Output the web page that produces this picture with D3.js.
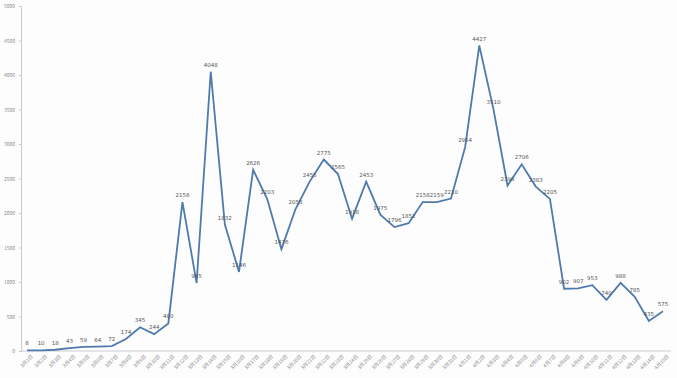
<!DOCTYPE html>
<html lang="zh">
<head>
<meta charset="UTF-8">
<title>Daily counts</title>
<style>
    html, body { margin: 0; height: 100%; }
    body { background: #fdfdfd; }
    .axis path, .axis line { stroke: #c8ccd2; }
    .axis text { fill: #8a8a8a; font-family: "Noto Sans CJK SC", "DejaVu Sans", sans-serif; font-size: 5px; }
    .lbl { fill: #555; font-family: "DejaVu Sans", sans-serif; font-size: 5.5px; }
</style>
</head>
<body>
<div class="chart"></div>
<script src="https://d3js.org/d3.v7.min.js"></script>
<script>
    // dates: 3/1 - 3/31, 4/1 - 4/15
    var marchDays = d3.range(1, 32).map(d => "3月" + d + "日");
    var aprilDays = d3.range(1, 16).map(d => "4月" + d + "日");
    var dates = marchDays.concat(aprilDays);

    var values = [8, 10, 18, 43, 59, 64, 72, 174, 345, 244, 400, 2158, 985, 4048, 1832, 1146,
        2626, 2203, 1476, 2058, 2455, 2775, 2565, 1918, 2453, 1975, 1796, 1852, 2158, 2159, 2210,
        2954, 4427, 3510, 2398, 2706, 2383, 2205, 902, 907, 953, 740, 988, 785, 435, 575];

    var yTicks = [0, 500, 1000, 1500, 2000, 2500, 3000, 3500, 4000, 4500, 5000];

    var W = 677, H = 378;
    var margin = { top: 6, right: 14, bottom: 27, left: 21 };
    var width = W - margin.left - margin.right,
        height = H - margin.top - margin.bottom;

    var svg = d3.select('.chart').append('svg')
        .attr('width', W).attr('height', H)
        .append('g')
        .attr('transform', `translate(${margin.left},${margin.top})`);

    var x = d3.scalePoint().domain(dates).range([6, width - 0]);
    var y = d3.scaleLinear().domain([0, 5000]).range([height, 0]);

    var xAxis = svg.append('g').attr('class', 'axis')
        .attr('transform', `translate(0,${height})`)
        .call(d3.axisBottom(x).tickSize(0).tickPadding(4));
    xAxis.select('.domain').attr('d', `M0,0H${width + 8}`);
    xAxis.selectAll('text')
        .attr('text-anchor', 'end')
        .attr('dy', '0.3em')
        .attr('transform', 'translate(2,2) rotate(-45)');

    svg.append('g').attr('class', 'axis')
        .call(d3.axisLeft(y).tickValues(yTicks).tickFormat(d3.format('d')).tickSize(2).tickPadding(4));

    var line = d3.line().x((d, i) => x(dates[i])).y(d => y(d));

    svg.append('path')
        .attr('d', line(values))
        .attr('fill', 'none')
        .attr('stroke', '#4f7aae')
        .attr('stroke-width', 1.8)
        .attr('stroke-linejoin', 'miter');

    svg.selectAll('.lbl').data(values).enter()
        .append('text')
        .attr('class', 'lbl')
        .attr('x', (d, i) => x(dates[i]))
        .attr('y', d => y(d) - 5)
        .attr('text-anchor', 'middle')
        .text(d => d);
</script>
</body>
</html>
